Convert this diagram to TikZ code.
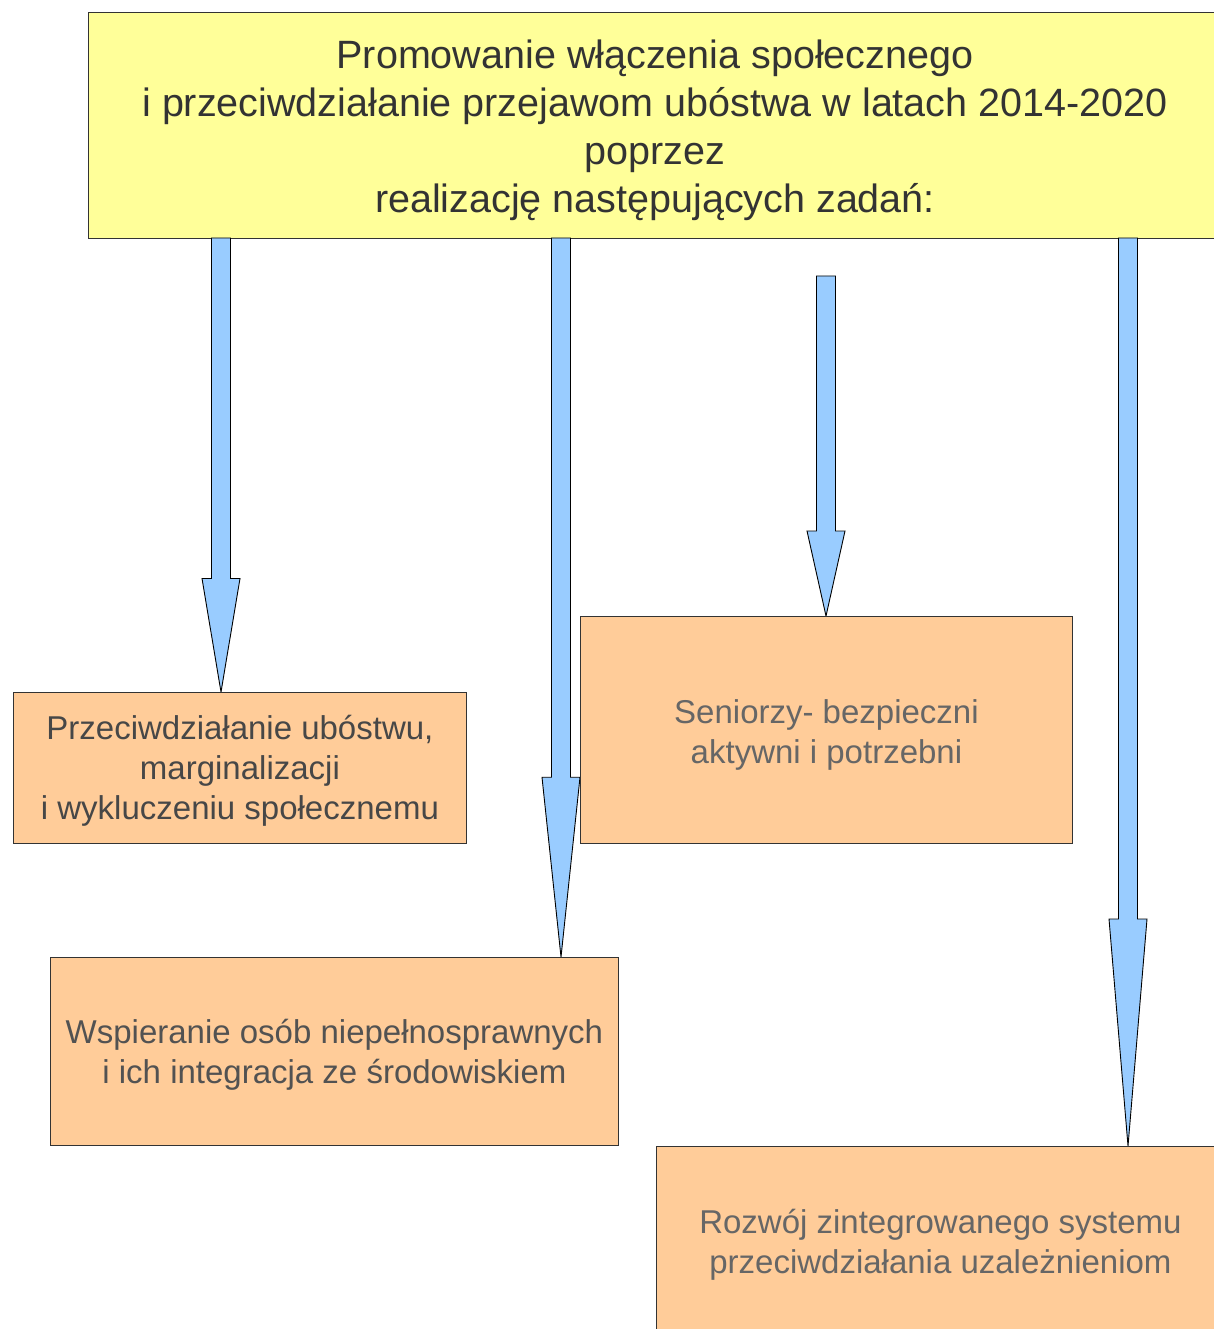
\documentclass[tikz,border=0pt]{standalone}
\usepackage{fontspec}
\setmainfont{Liberation Sans}
\usetikzlibrary{calc}

\definecolor{goalfill}{HTML}{FFFF99}
\definecolor{taskfill}{HTML}{FFCC99}
\definecolor{arrowfill}{HTML}{99CCFF}

% block arrow from #1 down to the tip #2, head = last quarter
\newcommand\blockarrow[2]{%
  \draw[arrowbody] let \p1=(#1), \p2=(#2), \n1={\y2+0.25*(\y1-\y2)} in
    (\x1-9.5pt,\y1) -- (\x1-9.5pt,\n1) -- (\x1-19pt,\n1) -- (\x2,\y2)
    -- (\x1+19pt,\n1) -- (\x1+9.5pt,\n1) -- (\x1+9.5pt,\y1) -- cycle;}

\begin{document}
\begin{tikzpicture}[x=1pt, y=-1pt,
    topbox/.style={draw=black!80, line width=0.9pt, fill=goalfill, align=center,
      inner sep=0pt, text=black!80, font=\fontsize{39.5}{48}\selectfont,
      text height=184.4pt, text depth=8.4pt},
    taskbox/.style={draw=black!80, line width=0.9pt, fill=taskfill, align=center,
      inner sep=0pt, font=\fontsize{33}{40}\selectfont, text depth=7pt},
    arrowbody/.style={draw=black, line width=0.9pt, fill=arrowfill}]
  \useasboundingbox (0,0) rectangle (1213,1329);
  % ---- goal on top ----
  \node[topbox, minimum width=1134, minimum height=226] (goal) at (655,125)
    {Promowanie włączenia społecznego\\
     i przeciwdziałanie przejawom ubóstwa w latach 2014-2020\\
     poprzez\\
     realizację następujących zadań:};
  % ---- arrows down to the tasks ----
  \coordinate (s1) at (221,238);
  \coordinate (s2) at (561,238);
  \coordinate (s3) at (826,276);
  \coordinate (s4) at (1128,238);
  \coordinate (t1) at (221,692);
  \coordinate (t2) at (561,957);
  \coordinate (t3) at (826,616);
  \coordinate (t4) at (1128,1146);
  \blockarrow{s1}{t1}
  \blockarrow{s2}{t2}
  \blockarrow{s3}{t3}
  \blockarrow{s4}{t4}
  % ---- tasks ----
  \node[taskbox, text=black!72, text height=110pt, minimum width=453, minimum height=151,
    anchor=north west] (ubostwo) at (13,692)
    {Przeciwdziałanie ubóstwu,\\ marginalizacji\\ i wykluczeniu społecznemu};
  \node[taskbox, text=black!68, text height=71pt, minimum width=568, minimum height=188,
    anchor=north west] (niepelnosprawni) at (50,957)
    {Wspieranie osób niepełnosprawnych\\ i ich integracja ze środowiskiem};
  \node[taskbox, text=black!60, text height=74pt, minimum width=492, minimum height=227,
    anchor=north west] (seniorzy) at (580,616)
    {Seniorzy- bezpieczni\\ aktywni i potrzebni};
  \node[taskbox, text=black!60, text height=71pt, minimum width=568, minimum height=190,
    anchor=north west] (uzaleznienia) at (656,1146)
    {Rozwój zintegrowanego systemu\\ przeciwdziałania uzależnieniom};
\end{tikzpicture}
\end{document}
